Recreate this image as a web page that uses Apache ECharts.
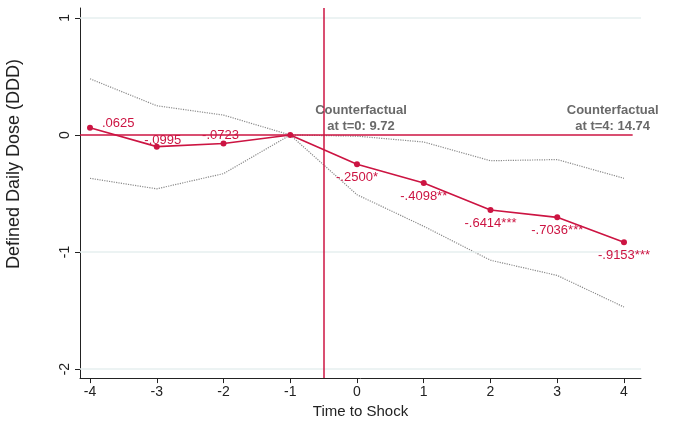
<!DOCTYPE html>
<html><head><meta charset="utf-8">
<script src="https://cdn.jsdelivr.net/npm/echarts@6/dist/echarts.min.js"></script>
<style>html,body{margin:0;padding:0;background:#fff}#c{width:675px;height:424px}</style>
</head><body><div id="c"></div>
<script>
var periods = [-4, -3, -2, -1, 0, 1, 2, 3, 4];
var estimates = [0.0625, -0.0995, -0.0723, 0, -0.25, -0.4098, -0.6414, -0.7036, -0.9153];
var upperCI = [0.48, 0.25, 0.17, 0, -0.01, -0.06, -0.22, -0.21, -0.37];
var lowerCI = [-0.37, -0.46, -0.33, 0, -0.51, -0.78, -1.07, -1.20, -1.47];
var pointLabels = ['.0625', '-.0995', '-.0723', '', '-.2500*', '-.4098**', '-.6414***', '-.7036***', '-.9153***'];
var xTicks = [-4, -3, -2, -1, 0, 1, 2, 3, 4];
var yTicks = [-2, -1, 0, 1];
var shockLine = -0.5;
var annotations = [
  {x: 0.06, y: 0.14, text: 'Counterfactual\nat t=0: 9.72'},
  {x: 3.83, y: 0.14, text: 'Counterfactual\nat t=4: 14.74'}
];
var yTitle = 'Defined Daily Dose (DDD)';
var xTitle = 'Time to Shock';

var RED = '#cc1442';
var FONT = 'Liberation Sans, Arial, sans-serif';

function pair(arr){ return periods.map(function(p,i){ return [p, arr[i]]; }); }

var labelStyles = periods.map(function(p){
  if (p === -4) return {position: 'right', offset: [5, -4]};
  if (p === -3) return {position: 'top', offset: [6, 7]};
  if (p === -2) return {position: 'top', offset: [-3, 5]};
  return {position: 'bottom', offset: [0, 0]};
});

var estData = periods.map(function(p,i){
  return {value: [p, estimates[i]], label: Object.assign({show: true, formatter: pointLabels[i]}, labelStyles[i])};
});

var chart = echarts.init(document.getElementById('c'), null, {renderer: 'canvas'});
chart.setOption({
  animation: false,
  textStyle: {fontFamily: FONT},
  grid: {left: 80, right: 34, top: 8, bottom: 45},
  graphic: [{
    type: 'text', x: 14, y: 164, rotation: Math.PI / 2,
    style: {text: yTitle, fontSize: 18, fill: '#222', fontFamily: FONT, align: 'center', verticalAlign: 'middle'}
  }],
  xAxis: {
    type: 'value', min: -4.15, max: 4.255,
    name: xTitle, nameLocation: 'middle', nameGap: 24,
    nameTextStyle: {fontSize: 15, color: '#222', fontFamily: FONT},
    axisLine: {show: true, onZero: false, lineStyle: {color: '#222', width: 1}},
    axisTick: {show: true, customValues: xTicks, length: 5, lineStyle: {color: '#222'}},
    axisLabel: {customValues: xTicks, fontSize: 14, color: '#222', margin: 7, fontFamily: FONT},
    splitLine: {show: false}
  },
  yAxis: {
    type: 'value', min: -2.077, max: 1.085,
    axisLine: {show: true, onZero: false, lineStyle: {color: '#222', width: 1}},
    axisTick: {show: true, customValues: yTicks, length: 5, lineStyle: {color: '#222'}},
    axisLabel: {customValues: yTicks, rotate: 90, fontSize: 14, color: '#222', margin: 8, fontFamily: FONT},
    splitLine: {show: false}
  },
  series: [
    {
      type: 'line', data: pair(upperCI), symbol: 'none', silent: true,
      lineStyle: {color: '#8a8a8a', width: 1.2, type: 'dotted'}
    },
    {
      type: 'line', data: pair(lowerCI), symbol: 'none', silent: true,
      lineStyle: {color: '#8a8a8a', width: 1.2, type: 'dotted'}
    },
    {
      type: 'line', data: [], silent: true,
      markLine: {
        symbol: 'none', silent: true, label: {show: false},
        lineStyle: {color: '#e6efef', width: 1.5, type: 'solid'},
        data: yTicks.filter(function(v){return v !== 0;}).map(function(v){ return [{coord: [-4.15, v]}, {coord: [4.255, v]}]; })
      }
    },
    {
      type: 'line', data: estData, z: 5,
      symbol: 'circle', symbolSize: 6,
      itemStyle: {color: RED},
      lineStyle: {color: RED, width: 1.6},
      label: {show: true, color: RED, fontSize: 13, fontFamily: FONT, distance: 4},
      markLine: {
        symbol: 'none', silent: true, label: {show: false},
        lineStyle: {color: RED, width: 1.5, type: 'solid'},
        data: [
          [{coord: [-4.15, 0]}, {coord: [4.13, 0]}],
          [{coord: [shockLine, -2.077]}, {coord: [shockLine, 1.085]}]
        ]
      }
    },
    {
      type: 'scatter', symbolSize: 0, silent: true, z: 6,
      data: annotations.map(function(a){ return {value: [a.x, a.y], label: {formatter: a.text}}; }),
      label: {show: true, position: 'inside', color: '#444', fontWeight: 'bold', fontSize: 13, lineHeight: 16, align: 'center', fontFamily: FONT}
    }
  ]
});
</script></body></html>
